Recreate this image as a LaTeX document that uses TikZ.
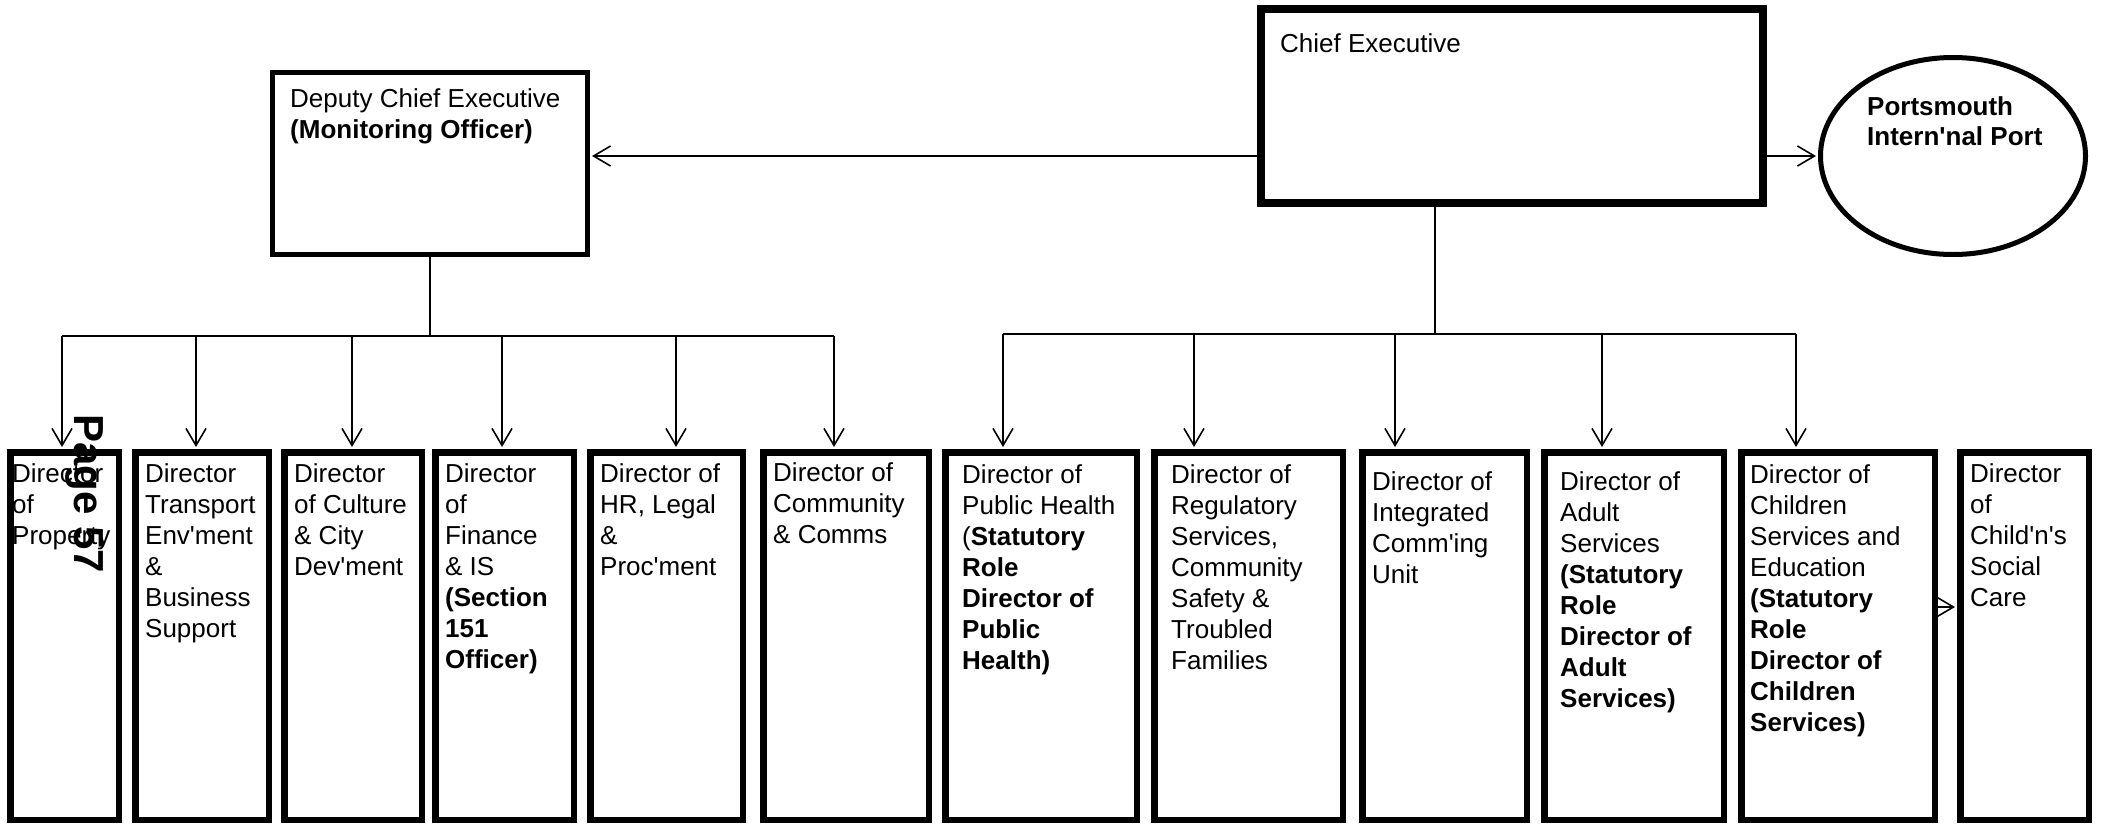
\documentclass[tikz,border=0pt]{standalone}
\usepackage{fontspec}
\setmainfont{Liberation Sans}
\usetikzlibrary{arrows.meta,shapes.geometric}
\newcommand\ap{\textquotesingle}
\begin{document}
\begin{tikzpicture}[x=1pt,y=-1pt,
  dbox/.style={draw, line width=6.5pt, rectangle, inner sep=0pt, minimum height=367.5pt},
  ln/.style={line width=1.6pt},
  arr/.style={line width=1.6pt, shorten >=2pt, -{Straight Barb[length=17pt,width=20pt,line width=1.6pt]}},
  txt/.style={anchor=north west, inner sep=0pt, align=left, font=\fontsize{26}{31}\selectfont}]
\useasboundingbox (0,0) rectangle (2101,827);

% top level
\node[draw, line width=5pt, inner sep=0pt, minimum width=315pt, minimum height=182pt] (deputy) at (430,163.5) {};
\node[draw, line width=8pt, inner sep=0pt, minimum width=502pt, minimum height=194pt] (chief) at (1512,106) {};
\node[draw, ellipse, line width=5pt, inner sep=0pt, minimum width=265pt, minimum height=197pt] (port) at (1953,156) {};

\node[txt] (tdep) at (290,85.3) {\strut Deputy Chief Executive\\\textbf{(Monitoring Officer)}};
\node[txt] (tchief) at (1280,30.3) {\strut Chief Executive};
\node[txt, font=\fontsize{26}{30}\selectfont\bfseries] (tport) at (1867,94) {\strut Portsmouth\\Intern\ap nal Port};

% director boxes
\node[dbox, minimum width=108.5pt] (b1) at (64.5,636) {};
\node[dbox, minimum width=133.5pt] (b2) at (202,636) {};
\node[dbox, minimum width=137.5pt] (b3) at (353,636) {};
\node[dbox, minimum width=138.5pt] (b4) at (504.5,636) {};
\node[dbox, minimum width=152.5pt] (b5) at (666.5,636) {};
\node[dbox, minimum width=165.5pt] (b6) at (846,636) {};
\node[dbox, minimum width=191.5pt] (b7) at (1041,636) {};
\node[dbox, minimum width=188.5pt] (b8) at (1248.5,636) {};
\node[dbox, minimum width=164.5pt] (b9) at (1444.5,636) {};
\node[dbox, minimum width=179.5pt] (b10) at (1634,636) {};
\node[dbox, minimum width=193.5pt] (b11) at (1838,636) {};
\node[dbox, minimum width=128.5pt] (b12) at (2024.5,636) {};

\node[txt] (t1) at (12,460.3) {\strut Director\\of\\Property};
\node[txt] (t2) at (145,460.3) {\strut Director\\Transport\\Env\ap ment\\\&\\Business\\Support};
\node[txt] (t3) at (294,460.3) {\strut Director\\of Culture\\\& City\\Dev\ap ment};
\node[txt] (t4) at (445,460.3) {\strut Director\\of\\Finance\\\& IS\\\textbf{(Section}\\\textbf{151}\\\textbf{Officer)}};
\node[txt] (t5) at (600,460.3) {\strut Director of\\HR, Legal\\\&\\Proc\ap ment};
\node[txt] (t6) at (773,459.3) {\strut Director of\\Community\\\& Comms};
\node[txt] (t7) at (962,461.3) {\strut Director of\\Public Health\\(\textbf{Statutory}\\\textbf{Role}\\\textbf{Director of}\\\textbf{Public}\\\textbf{Health)}};
\node[txt] (t8) at (1171,461.3) {\strut Director of\\Regulatory\\Services,\\Community\\Safety \&\\Troubled\\Families};
\node[txt] (t9) at (1372,468.3) {\strut Director of\\Integrated\\Comm\ap ing\\Unit};
\node[txt] (t10) at (1560,468.3) {\strut Director of\\Adult\\Services\\\textbf{(Statutory}\\\textbf{Role}\\\textbf{Director of}\\\textbf{Adult}\\\textbf{Services)}};
\node[txt] (t11) at (1750,461.3) {\strut Director of\\Children\\Services and\\Education\\\textbf{(Statutory}\\\textbf{Role}\\\textbf{Director of}\\\textbf{Children}\\\textbf{Services)}};
\node[txt] (t12) at (1970,460.3) {\strut Director\\of\\Child\ap n\ap s\\Social\\Care};

% bus coordinates
\coordinate (L1) at (62,336);
\coordinate (L2) at (196,336);
\coordinate (L3) at (352,336);
\coordinate (L4) at (502,336);
\coordinate (L5) at (676,336);
\coordinate (L6) at (834,336);
\coordinate (R1) at (1003,334);
\coordinate (R2) at (1194,334);
\coordinate (R3) at (1395,334);
\coordinate (R4) at (1602,334);
\coordinate (R5) at (1796,334);
\coordinate (CV) at (1435,334);

% connectors
\draw[arr] (chief.west |- port.center) -- (deputy.east |- port.center);
\draw[arr] (chief.east |- port.center) -- (port.west);
\draw[ln] (deputy.south) -- (deputy.south |- L1);
\draw[ln] (L1) -- (L6);
\draw[ln] (CV |- chief.south) -- (CV);
\draw[ln] (R1) -- (R5);
\draw[arr] (L1) -- (L1 |- b1.north);
\draw[arr] (L2) -- (L2 |- b2.north);
\draw[arr] (L3) -- (L3 |- b3.north);
\draw[arr] (L4) -- (L4 |- b4.north);
\draw[arr] (L5) -- (L5 |- b5.north);
\draw[arr] (L6) -- (L6 |- b6.north);
\draw[arr] (R1) -- (R1 |- b7.north);
\draw[arr] (R2) -- (R2 |- b8.north);
\draw[arr] (R3) -- (R3 |- b9.north);
\draw[arr] (R4) -- (R4 |- b10.north);
\draw[arr] (R5) -- (R5 |- b11.north);
\coordinate (A12) at (1938,607);
\draw[arr] (A12) -- (A12 -| b12.west);

% page marker
\node[rotate=-90, inner sep=0pt, font=\fontsize{42}{42}\selectfont\bfseries] (page) at (84,494) {Page 57};
\end{tikzpicture}
\end{document}
